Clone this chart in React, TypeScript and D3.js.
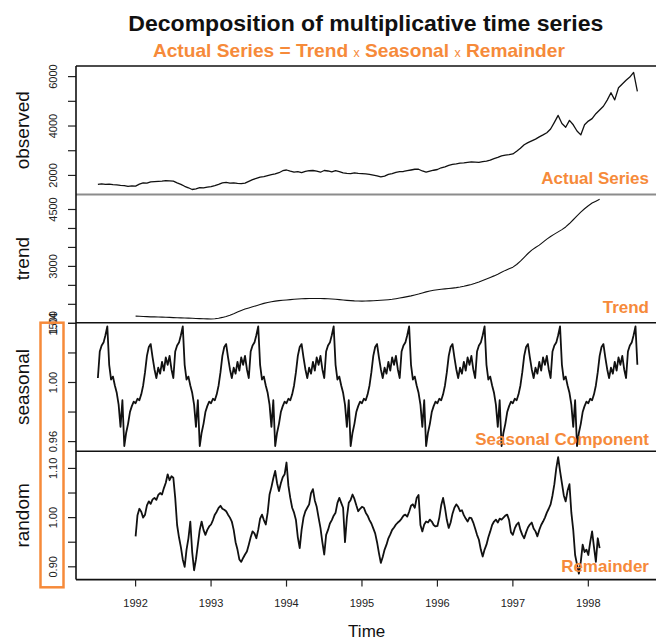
import * as d3 from "d3";

// DAX-like daily series at 20 points a year
const observedStart = 1991.5;
const observedFreq = 20;
const observed = [
  1640, 1660, 1635, 1650, 1630, 1615, 1600, 1590, 1560, 1575,
  1570, 1650, 1700, 1690, 1740, 1750, 1760, 1770, 1790, 1780, 1770, 1700, 1640, 1560, 1500, 1430, 1460, 1510, 1500, 1530,
  1550, 1590, 1640, 1700, 1720, 1690, 1700, 1680, 1670, 1690, 1760, 1830, 1880, 1930, 1950, 1990, 2030, 2060, 2110, 2190,
  2220, 2170, 2130, 2150, 2110, 2160, 2190, 2200, 2170, 2130, 2200, 2180, 2140, 2190, 2150, 2100, 2080, 2070, 2100, 2080,
  2070, 2060, 2040, 2010, 1980, 1940, 1970, 2040, 2070, 2120, 2150, 2160, 2190, 2220, 2250, 2250, 2180, 2130, 2170, 2210,
  2240, 2310, 2350, 2410, 2450, 2470, 2500, 2510, 2530, 2550, 2540, 2530, 2560, 2580, 2620, 2680, 2730, 2790, 2820, 2840,
  2870, 2980, 3100, 3240, 3330, 3400, 3470, 3560, 3640, 3730, 3880, 4150, 4430, 4100, 3950, 4230, 4050, 3800, 3640, 4050,
  4200, 4300, 4500, 4650, 4800, 5050, 5350, 5060, 5550, 5700, 5850, 5980, 6170, 5400,
];

const trendStart = 1992;
const trendFreq = 20;
const trend = [
  1690, 1685, 1680, 1675, 1670, 1668, 1665, 1662, 1658, 1655, 1650, 1647, 1643, 1640, 1636, 1632, 1628, 1624, 1620, 1617,
  1615, 1620, 1635, 1655, 1680, 1710, 1750, 1795, 1840, 1875, 1905, 1935, 1965, 1995, 2025, 2050, 2070, 2085, 2097, 2107,
  2115, 2125, 2133, 2140, 2146, 2150, 2153, 2155, 2155, 2153, 2150, 2146, 2140, 2135, 2125, 2115, 2105, 2097, 2090, 2086,
  2085, 2087, 2090, 2095, 2100, 2106, 2113, 2122, 2133, 2148, 2165, 2183, 2203, 2222, 2245, 2270, 2300, 2328, 2350, 2370,
  2385, 2398, 2408, 2418, 2428, 2440, 2455, 2475, 2500, 2525, 2555, 2590, 2630, 2670, 2710, 2750, 2795, 2845, 2895, 2940,
  2980, 3050, 3140, 3240, 3340, 3430, 3500, 3560, 3640, 3720, 3790, 3850, 3910, 3970, 4040, 4130, 4230, 4330, 4430, 4520,
  4600, 4670, 4720, 4770,
];

// one yearly cycle of the seasonal figure (40 points a year), repeated over the series span
const seasonalStart = 1991.5;
const seasonalFreq = 40;
const seasonalCount = 287;
const seasonalCycle = [
  1.003, 1.021, 1.025, 1.027, 1.032, 1.038, 1.012, 1.002, 1.004, 0.998,
  0.993, 0.985, 0.970, 0.988, 0.957, 0.966, 0.972, 0.980, 0.984, 0.987,
  0.986, 0.989, 0.988, 0.992, 0.998, 1.007, 1.018, 1.024, 1.026, 1.017,
  1.009, 1.003, 1.010, 1.006, 1.014, 1.008, 1.017, 1.012, 1.018, 1.009,
];

const randomStart = 1992;
const randomFreq = 40;
const random = [
  0.962, 1.005, 1.018, 1.012, 1.000, 1.006, 1.025, 1.033, 1.028, 1.037, 1.040, 1.036, 1.046, 1.050, 1.047, 1.060, 1.071, 1.088, 1.076, 1.084,
  1.081, 1.040, 0.985, 0.960, 0.940, 0.915, 0.900, 0.935, 0.958, 0.992, 0.930, 0.893, 0.915, 0.945, 0.975, 0.992, 0.975, 0.965, 0.975, 0.982,
  0.986, 0.995, 1.006, 1.012, 1.020, 1.024, 1.018, 1.016, 1.013, 1.006, 1.000, 0.992, 0.975, 0.950, 0.935, 0.915, 0.910, 0.918, 0.925, 0.931,
  0.945, 0.960, 0.972, 0.968, 0.958, 0.975, 0.998, 1.006, 0.995, 0.986, 1.010, 1.047, 1.062, 1.080, 1.095, 1.070, 1.054, 1.070, 1.082, 1.088,
  1.112, 1.065, 1.040, 1.020, 1.010, 0.995, 0.960, 0.938, 0.975, 1.000, 1.013, 1.020, 1.027, 1.050, 1.058, 1.035, 1.022, 1.000, 0.979, 0.950,
  0.925, 0.965, 0.975, 0.988, 0.995, 1.004, 1.010, 1.030, 1.040, 1.030, 1.020, 0.950, 1.000, 1.030, 1.036, 1.047, 1.038, 1.025, 1.013, 1.018,
  1.022, 1.020, 1.010, 1.004, 0.995, 0.988, 0.978, 0.968, 0.950, 0.928, 0.908, 0.920, 0.935, 0.945, 0.958, 0.966, 0.975, 0.980, 0.986, 0.990,
  0.993, 0.998, 1.004, 1.006, 1.002, 1.012, 1.024, 1.027, 1.020, 1.040, 1.046, 0.985, 0.972, 0.986, 0.992, 0.990, 0.996, 0.992, 0.985, 0.982,
  0.983, 1.000, 1.025, 1.040, 1.020, 0.995, 0.979, 0.990, 1.008, 1.020, 1.027, 1.022, 1.013, 1.015, 1.005, 0.998, 0.992, 1.000, 0.999, 0.990,
  0.978, 0.965, 0.955, 0.935, 0.921, 0.935, 0.945, 0.960, 0.972, 0.985, 0.992, 0.996, 0.990, 0.998, 0.996, 1.000, 1.004, 1.006, 0.995, 0.970,
  0.965, 0.978, 0.986, 0.990, 0.975, 0.965, 0.958, 0.970, 0.980, 0.986, 0.990, 0.978, 0.972, 0.962, 0.975, 0.985, 0.992, 1.000, 1.010, 1.018,
  1.027, 1.045, 1.068, 1.100, 1.123, 1.095, 1.070, 1.045, 1.033, 1.055, 1.068, 1.010, 0.975, 0.924, 0.905, 0.886, 0.910, 0.945, 0.930, 0.935,
  0.924, 0.950, 0.972, 0.940, 0.910, 0.958, 0.938,
];

const yearTicks = [1992, 1993, 1994, 1995, 1996, 1997, 1998];

const observedTicks = [2000, 3000, 4000, 5000, 6000];
const observedLabels = [2000, 4000, 6000];
const trendTicks = [1500, 2000, 2500, 3000, 3500, 4000, 4500];
const trendLabels = [1500, 3000, 4500];
const seasonalTicks = [0.96, 0.98, 1.0, 1.02, 1.04];
const seasonalLabels = [0.96, 1.0, 1.04];
const randomTicks = [0.9, 0.95, 1.0, 1.05, 1.1];
const randomLabels = [0.9, 1.0, 1.1];

const ORANGE = "#F68A3A";
const FONT = "'Liberation Sans', Arial, Helvetica, sans-serif";

type Pt = [number, number];
const toSeries = (vals: number[], start: number, freq: number): Pt[] =>
  vals.map((v, i) => [start + i / freq, v]);

export default function App() {
  const width = 656;
  const height = 641;
  const left = 76;
  const right = 658.5;
  const top = 66;
  const panelH = 128.4;

  const x = d3.scaleLinear().domain([1991.21, 1998.93]).range([left, right]);

  const seasonal: Pt[] = d3
    .range(seasonalCount)
    .map(i => [seasonalStart + i / seasonalFreq, seasonalCycle[i % seasonalCycle.length]]);

  const panels = [
    {
      name: "observed",
      data: toSeries(observed, observedStart, observedFreq),
      domain: [1232, 6430],
      ticks: observedTicks,
      labels: observedLabels,
      fmt: (d: number) => String(d),
      note: "Actual Series",
      noteY: 184,
      lw: 1.3,
    },
    {
      name: "trend",
      data: toSeries(trend, trendStart, trendFreq),
      domain: [1513, 4898],
      ticks: trendTicks,
      labels: trendLabels,
      fmt: (d: number) => String(d),
      note: "Trend",
      noteY: 312.5,
      lw: 1.1,
    },
    {
      name: "seasonal",
      data: seasonal,
      domain: [0.9535, 1.0404],
      ticks: seasonalTicks,
      labels: seasonalLabels,
      fmt: d3.format(".2f"),
      note: "Seasonal Component",
      noteY: 445,
      lw: 1.8,
    },
    {
      name: "random",
      data: toSeries(random, randomStart, randomFreq),
      domain: [0.874, 1.135],
      ticks: randomTicks,
      labels: randomLabels,
      fmt: d3.format(".2f"),
      note: "Remainder",
      noteY: 571.5,
      lw: 1.8,
    },
  ];

  const bottom = top + panelH * panels.length;
  const borderColors = ["#111", "#8c8c8c", "#111", "#111", "#111"];

  return (
    <div style={{ position: "absolute", left: 0, top: 0, width, height, overflow: "hidden", background: "#fff" }}>
      <svg width={width} height={height} style={{ display: "block", fontFamily: FONT }}>
        <rect width={width} height={height} fill="#fff" />
        <text
          x={365.8}
          y={31}
          textAnchor="middle"
          fontSize={22}
          fontWeight="bold"
          fill="#111"
          textLength={475}
          lengthAdjust="spacingAndGlyphs"
        >
          Decomposition of multiplicative time series
        </text>
        <text
          x={358.9}
          y={56.7}
          textAnchor="middle"
          fontSize={18.5}
          fontWeight="bold"
          fill={ORANGE}
          textLength={412}
          lengthAdjust="spacingAndGlyphs"
        >
          Actual Series = Trend <tspan fontSize={12} fontWeight="normal">x</tspan> Seasonal{" "}
          <tspan fontSize={12} fontWeight="normal">x</tspan> Remainder
        </text>

        {panels.map((p, k) => {
          const y0 = top + k * panelH;
          const y = d3.scaleLinear().domain(p.domain).range([y0 + panelH, y0]);
          const line = d3
            .line<Pt>()
            .x(d => x(d[0]))
            .y(d => y(d[1]));
          return (
            <g key={p.name}>
              <path
                d={line(p.data) ?? undefined}
                fill="none"
                stroke="#111"
                strokeWidth={p.lw}
                strokeLinejoin="round"
              />
              {p.ticks.map(t => (
                <line key={t} x1={left - 8} x2={left} y1={y(t)} y2={y(t)} stroke="#222" strokeWidth={1.2} />
              ))}
              {p.labels.map(t => (
                <text
                  key={t}
                  transform={`translate(53,${y(t)}) rotate(-90)`}
                  textAnchor="middle"
                  dominantBaseline="central"
                  fontSize={11}
                  fill="#222"
                >
                  {p.fmt(t)}
                </text>
              ))}
              <text
                transform={`translate(22,${y0 + panelH / 2}) rotate(-90)`}
                textAnchor="middle"
                dominantBaseline="central"
                fontSize={19}
                fill="#111"
              >
                {p.name}
              </text>
              <text x={649} y={p.noteY} textAnchor="end" fontSize={17} fontWeight="bold" fill={ORANGE}>
                {p.note}
              </text>
            </g>
          );
        })}

        {borderColors.map((c, k) => (
          <line
            key={k}
            x1={left}
            x2={right}
            y1={top + k * panelH}
            y2={top + k * panelH}
            stroke={c}
            strokeWidth={k === 1 ? 2 : 1.6}
          />
        ))}
        <line x1={left} x2={left} y1={top} y2={bottom} stroke="#111" strokeWidth={1.6} />

        {yearTicks.map(t => (
          <g key={t}>
            <line x1={x(t)} x2={x(t)} y1={bottom} y2={bottom + 7} stroke="#222" strokeWidth={1.2} />
            <text x={x(t)} y={607} textAnchor="middle" fontSize={11} fill="#222">
              {t}
            </text>
          </g>
        ))}
        <text x={366.7} y={637} textAnchor="middle" fontSize={17} fill="#111">
          Time
        </text>

        <rect x={40.5} y={322.7} width={23} height={264.6} fill="none" stroke={ORANGE} strokeWidth={2.5} />
      </svg>
    </div>
  );
}
